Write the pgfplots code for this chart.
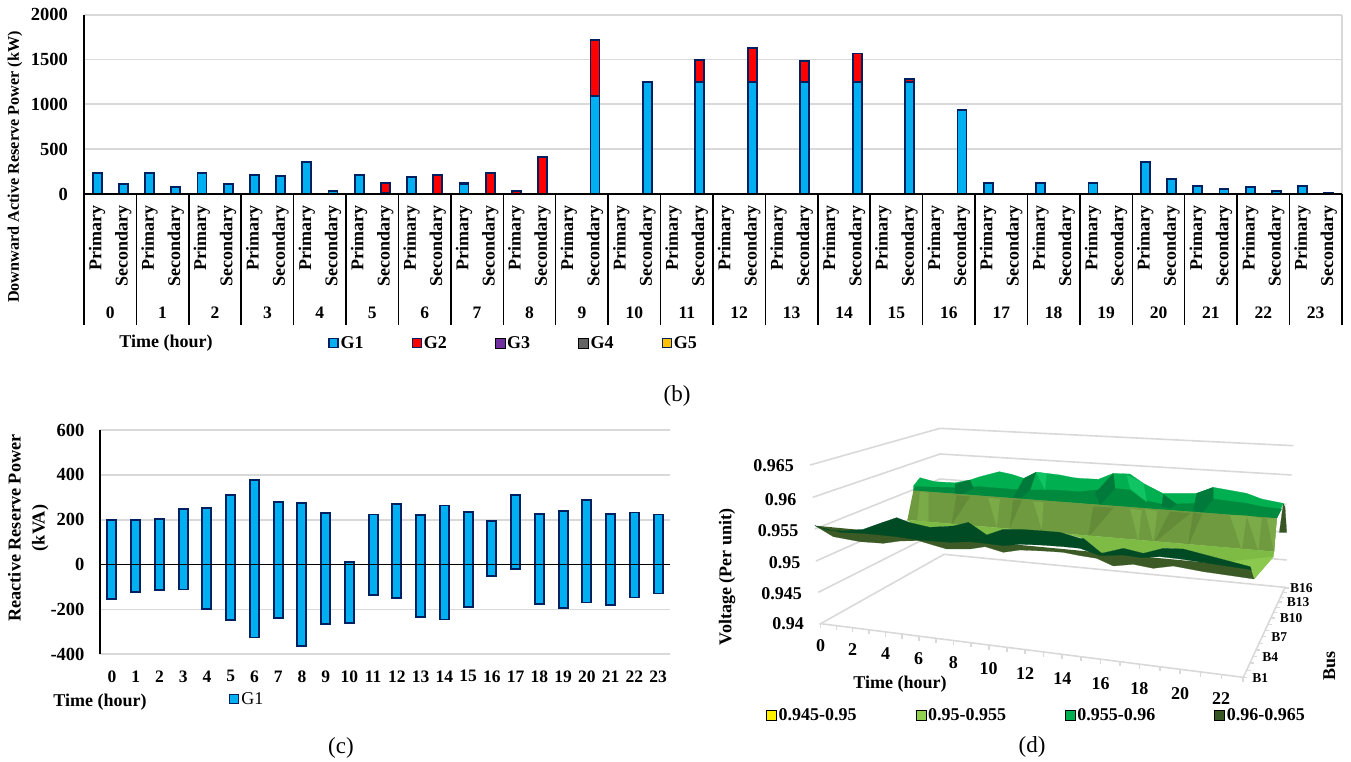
\documentclass[border=0pt]{standalone}
\usepackage{fontspec}
\setmainfont{Liberation Serif}
\usepackage{pgfplots}
\usepackage{pgfplotstable}
\pgfplotsset{compat=1.18}
\definecolor{navy}{HTML}{002060}
\definecolor{cy}{HTML}{00B0F0}
\definecolor{gridc}{HTML}{D9D9D9}
\definecolor{gGiii}{HTML}{7030A0}
\definecolor{gGiv}{HTML}{636363}
\definecolor{gGv}{HTML}{FFC000}
\definecolor{lg}{HTML}{92D050}
\definecolor{mg}{HTML}{00B050}
\definecolor{darkolive}{HTML}{375623}
\definecolor{sTop}{HTML}{00B050}
\definecolor{sBand}{HTML}{008A3E}
\definecolor{sDk}{HTML}{007A3A}
\definecolor{sLt}{HTML}{10C464}
\definecolor{sWall}{HTML}{6F9A40}
\definecolor{sWl}{HTML}{7BAA48}
\definecolor{sWd}{HTML}{648C38}
\definecolor{sFl}{HTML}{7DBB45}
\definecolor{sFm}{HTML}{8AC84E}
\definecolor{sFr}{HTML}{3B5A25}
\definecolor{sDg}{HTML}{004B23}
\newcommand{\bft}[1]{\fontsize{#1}{#1}\selectfont\bfseries}
\newcommand{\rg}[1]{\fontsize{#1}{#1}\selectfont}
\pgfplotsset{
  swatch/.style={legend image code/.code={\draw[##1,line width=1.3pt] (0pt,-4.5pt) rectangle (9pt,4.5pt);}},
  swatchd/.style={legend image code/.code={\fill[##1] (0pt,-5pt) rectangle (10pt,5pt);}},
  poly/.style={fill=#1,draw=#1,line width=0.2pt,forget plot,sharp plot,no markers},
}
\pgfplotstableread{
x G1 G2
0 230 0
1 108 0
2 238 0
3 75 0
4 238 0
5 108 0
6 208 0
7 204 0
8 353 0
9 37 0
10 215 0
11 10 112
12 190 0
13 0 215
14 115 11
15 0 234
16 0 37
17 0 415
18 0 0
19 1093 627
20 0 0
21 1250 0
22 0 0
23 1250 244
24 0 0
25 1250 378
26 0 0
27 1250 237
28 0 0
29 1250 318
30 0 0
31 1250 36
32 0 0
33 940 0
34 119 0
35 0 0
36 122 0
37 0 0
38 119 0
39 0 0
40 353 0
41 171 0
42 93 0
43 60 0
44 78 0
45 37 0
46 89 0
47 15 0
}\downres
\pgfplotstableread{
x up down
0 200 -153
1 198 -122
2 204 -114
3 248 -111
4 254 -198
5 309 -247
6 377 -325
7 279 -239
8 276 -363
9 230 -266
10 12 -262
11 223 -134
12 269 -150
13 221 -233
14 263 -245
15 236 -190
16 195 -51
17 309 -18
18 227 -175
19 239 -195
20 288 -169
21 227 -180
22 232 -147
23 223 -129
}\reacres
\begin{document}
\begin{tikzpicture}
\useasboundingbox (0,0) rectangle (1351pt,762pt);
% ---------- panel (b)
\begin{axis}[
  at={(84pt,568pt)},anchor=south west,scale only axis,width=1258pt,height=179.3pt,
  ybar stacked,bar width=9pt,
  xmin=-0.5,xmax=47.5,ymin=0,ymax=2000,
  axis x line=bottom,axis y line=left,
  axis line style={-,black,line width=1.5pt},
  ytick={0,500,1000,1500,2000},yticklabels={0,500,1000,1500,2000},
  yticklabel style={font=\bft{18.5},xshift=-12.5pt},
  ymajorgrids,grid style={gridc,line width=1.8pt},
  major tick length=0pt,
  xtick={0,...,47},
  xticklabels={Primary,Secondary,Primary,Secondary,Primary,Secondary,Primary,Secondary,Primary,Secondary,Primary,Secondary,Primary,Secondary,Primary,Secondary,Primary,Secondary,Primary,Secondary,Primary,Secondary,Primary,Secondary,Primary,Secondary,Primary,Secondary,Primary,Secondary,Primary,Secondary,Primary,Secondary,Primary,Secondary,Primary,Secondary,Primary,Secondary,Primary,Secondary,Primary,Secondary,Primary,Secondary,Primary,Secondary},
  xticklabel style={font=\bft{18},rotate=90,anchor=east,xshift=-8pt},
  ylabel={Downward Active Reserve Power (kW)},
  ylabel style={font=\bft{16.2},at={(axis description cs:-0.0548,0.15)},anchor=center},
  xlabel={Time (hour)},
  xlabel style={font=\bft{18},at={(axis description cs:0.0652,-0.831)},anchor=center},
  legend columns=-1,
  legend style={at={(axis description cs:0.1940,-0.831)},anchor=west,draw=none,fill=none,inner sep=0pt,font=\bft{18},
    /tikz/every even column/.append style={column sep=46pt}},
  legend cell align=left,
  clip=false,
  after end axis/.code={\draw[gridc,line width=1.8pt] (rel axis cs:1,0)--(rel axis cs:1,1);},
]
\addplot[fill=cy,draw=navy,line width=1.8pt,swatch] table[x=x,y=G1]{\downres};
\addplot[fill=red,draw=navy,line width=1.8pt,swatch] table[x=x,y=G2]{\downres};
\addlegendimage{fill=gGiii,swatchd}
\addlegendimage{fill=gGiv,swatchd}
\addlegendimage{fill=gGv,draw=navy,swatch}
\legend{G1,G2,G3,G4,G5}
\end{axis}
\begin{axis}[
  at={(84pt,568pt)},anchor=south west,scale only axis,width=1258pt,height=179.3pt,
  xmin=-0.5,xmax=47.5,ymin=0,ymax=2000,
  axis x line=bottom,axis y line=none,
  axis line style={-,black,line width=1.8pt},
  xtick={0.5,2.5,...,46.5},
  xticklabels={0,1,2,3,4,5,6,7,8,9,10,11,12,13,14,15,16,17,18,19,20,21,22,23},
  xticklabel style={font=\bft{17.5},anchor=center,yshift=-119pt},
  major tick length=0pt,
  minor xtick={-0.5,1.5,...,47.5},
  minor tick length=131pt,
  minor tick style={black,line width=1.5pt},
  tick align=outside,xtick pos=lower,
]
\end{axis}
\node[font=\rg{23}] at (677pt,366pt) {(b)};
% ---------- panel (c)
\begin{axis}[
  at={(100pt,107.7pt)},anchor=south west,scale only axis,width=570pt,height=224.3pt,
  ybar,bar shift=0pt,bar width=9pt,
  xmin=-0.5,xmax=23.5,ymin=-400,ymax=600,
  axis x line=bottom,axis y line=left,
  x axis line style={-,gridc,line width=1.8pt},
  y axis line style={-,black,line width=1.5pt},
  ytick={-400,-200,0,200,400,600},yticklabels={-400,-200,0,200,400,600},
  yticklabel style={font=\bft{18.5},xshift=-12pt},
  ymajorgrids,grid style={gridc,line width=1.8pt},
  major tick length=0pt,
  xtick={0,...,23},
  xticklabels={0,1,2,3,4,5,6,7,8,9,10,11,12,13,14,15,16,17,18,19,20,21,22,23},
  xticklabel style={font=\bft{17.5},anchor=center,yshift=-22pt},
  ylabel={Reactive Reserve Power\\(kVA)},
  ylabel style={font=\fontsize{18.2}{24}\selectfont\bfseries,align=center,at={(axis description cs:-0.126,0.563)},anchor=center},
  xlabel={Time (hour)},
  xlabel style={font=\bft{18},at={(axis description cs:0,-0.213)},anchor=center},
  legend style={at={(axis description cs:0.226,-0.199)},anchor=west,draw=none,fill=none,inner sep=0pt,font=\rg{18}},
  clip=false,
]
\addplot[fill=cy,draw=navy,line width=1.8pt,swatch] table[x=x,y=up]{\reacres};
\addlegendentry{G1}
\addplot[fill=cy,draw=navy,line width=1.8pt,forget plot] table[x=x,y=down]{\reacres};
\addplot[sharp plot,black,line width=1.8pt,no markers,forget plot] coordinates {(-0.5,0) (23.5,0)};
\end{axis}
\node[font=\rg{23}] at (341pt,14.5pt) {(c)};
% ---------- panel (d)
\begin{axis}[
  at={(700pt,0pt)},anchor=south west,scale only axis,width=651pt,height=342pt,
  xmin=-300,xmax=1653,ymin=-15,ymax=1011,y dir=reverse,
  hide axis,clip=false,
  legend columns=-1,
  legend style={at={(axis description cs:0.1014,0.137)},anchor=west,draw=none,fill=none,inner sep=0pt,font=\bft{18},
    /tikz/every even column/.append style={column sep=57pt}},
  legend cell align=left,
]
% walls and floor
\addplot[sharp plot,no markers,forget plot,gridc,line width=1.6pt] coordinates {(30,120) (420,10) (1480,62)};
\addplot[sharp plot,no markers,forget plot,gridc,line width=1.6pt] coordinates {(38,217) (420,87) (1475,150)};
\addplot[sharp plot,no markers,forget plot,gridc,line width=1.6pt] coordinates {(45,312) (420,162) (1460,238)};
\addplot[sharp plot,no markers,forget plot,gridc,line width=1.6pt] coordinates {(48,408) (430,238) (1460,322)};
\addplot[sharp plot,no markers,forget plot,gridc,line width=1.6pt] coordinates {(55,502) (432,312) (1460,405)};
\addplot[sharp plot,no markers,forget plot,gridc,line width=1.6pt] coordinates {(1330,757) (62,596) (432,388) (1455,487) (1330,757)};
% time ticks
\addplot[sharp plot,no markers,forget plot,gridc,line width=1.2pt,unbounded coords=jump] coordinates {
(62,596)(62,610)(nan,nan)(110,602)(110,616)(nan,nan)(158,608)(158,622)(nan,nan)(207,614)(207,628)(nan,nan)
(256,621)(256,635)(nan,nan)(306,627)(306,641)(nan,nan)(357,633)(357,647)(nan,nan)(408,640)(408,654)(nan,nan)
(460,647)(460,661)(nan,nan)(513,653)(513,667)(nan,nan)(567,660)(567,674)(nan,nan)(621,667)(621,681)(nan,nan)
(675,674)(675,688)(nan,nan)(730,681)(730,695)(nan,nan)(786,688)(786,702)(nan,nan)(843,695)(843,709)(nan,nan)
(901,703)(901,717)(nan,nan)(960,710)(960,724)(nan,nan)(1018,717)(1018,731)(nan,nan)(1080,725)(1080,739)(nan,nan)
(1140,733)(1140,747)(nan,nan)(1202,741)(1202,755)(nan,nan)(1264,749)(1264,763)(nan,nan)(1329,757)(1329,771)};
% bus ticks
\addplot[sharp plot,no markers,forget plot,gridc,line width=1.2pt,unbounded coords=jump] coordinates {
(1330,757)(1342,757)(nan,nan)(1340,736)(1352,736)(nan,nan)(1350,714)(1362,714)(nan,nan)(1358,695)(1370,695)(nan,nan)
(1368,675)(1380,675)(nan,nan)(1377,655)(1389,655)(nan,nan)(1386,635)(1398,635)(nan,nan)(1395,617)(1407,617)(nan,nan)
(1404,598)(1416,598)(nan,nan)(1412,579)(1424,579)(nan,nan)(1420,563)(1432,563)(nan,nan)(1427,547)(1439,547)(nan,nan)
(1435,531)(1447,531)(nan,nan)(1441,517)(1453,517)(nan,nan)(1448,503)(1460,503)(nan,nan)(1454,489)(1466,489)};
% surface, back to front
\addplot[poly=darkolive] coordinates {(1450,235)(1438,322)(1460,322)(1455,245)};
\addplot[poly=sTop] coordinates {(340,183)(360,158)(385,165)(405,170)(440,172)(465,173)(510,165)(540,155)(598,140)(635,148)(672,160)(708,142)(740,145)(780,150)(820,158)(840,160)(895,163)(940,145)(990,147)(1030,175)(1088,205)(1190,205)(1240,187)(1340,205)(1385,222)(1450,235)(1430,280)(340,197)};
\addplot[poly=sBand] coordinates {(345,185)(470,188)(540,185)(600,190)(672,195)(760,195)(840,200)(940,190)(990,195)(1030,225)(1088,238)(1190,235)(1240,222)(1340,235)(1385,245)(1445,252)(1430,280)(340,197)};
\addplot[poly=sDk] coordinates {(465,178)(510,165)(520,190)(480,210)(465,208)};
\addplot[poly=sDk] coordinates {(640,218)(672,160)(708,142)(690,195)(660,222)};
\addplot[poly=sLt] coordinates {(708,142)(740,145)(735,195)};
\addplot[poly=sDk] coordinates {(885,205)(940,145)(945,190)(900,240)};
\addplot[poly=sLt] coordinates {(980,150)(1030,175)(1040,230)(990,190)};
\addplot[poly=sDk] coordinates {(1180,255)(1190,205)(1240,187)(1240,222)(1205,265)};
\addplot[poly=sDk] coordinates {(1085,245)(1090,208)(1130,238)(1110,250)};
% wall
\addplot[poly=sWall] coordinates {(340,197)(1430,280)(1422,380)(322,285)};
\addplot[poly=sWl] coordinates {(360,200)(352,287)(385,290)(385,203)};
\addplot[poly=sWd] coordinates {(470,210)(455,298)(510,215)};
\addplot[poly=sWl] coordinates {(565,218)(590,305)(600,222)};
\addplot[poly=sWd] coordinates {(665,226)(630,307)(640,224)};
\addplot[poly=sWl] coordinates {(700,230)(725,312)(730,232)};
\addplot[poly=sWd] coordinates {(880,245)(865,335)(940,248)};
\addplot[poly=sWl] coordinates {(990,250)(1015,347)(1025,256)};
\addplot[poly=sWl] coordinates {(1035,252)(1060,350)(1072,258)};
\addplot[poly=sWd] coordinates {(1110,260)(1065,350)(1170,265)};
\addplot[poly=sWd] coordinates {(1180,262)(1165,360)(1205,268)};
\addplot[poly=sWl] coordinates {(1290,270)(1325,375)(1340,272)};
\addplot[poly=sWl] coordinates {(1340,272)(1375,378)(1385,280)};
\addplot[poly=sWl] coordinates {(1400,280)(1422,378)(1430,280)};
% light floor
\addplot[poly=sFl] coordinates {(322,285)(1422,380)(1420,395)(1362,462)(1350,425)(1150,372)(1090,370)(1030,385)(970,370)(905,385)(850,340)(780,322)(720,317)(660,313)(610,313)(560,330)(505,292)(460,303)(390,307)(330,293)};
\addplot[poly=sFm] coordinates {(1290,410)(1420,395)(1362,462)(1350,425)};
% front
\addplot[poly=sFr] coordinates {(45,302)(100,335)(180,350)(250,355)(300,348)(355,347)(440,372)(510,372)(555,365)(610,382)(660,375)(730,378)(790,382)(840,392)(890,400)(940,423)(1000,418)(1060,430)(1120,423)(1210,440)(1362,462)(1350,425)};
\addplot[poly=sDg] coordinates {(45,302)(80,315)(130,318)(190,313)(240,295)(290,278)(330,293)(390,307)(460,303)(505,292)(560,330)(610,313)(660,313)(720,317)(780,322)(840,340)(850,340)(905,385)(970,370)(1030,385)(1090,370)(1150,372)(1350,425)(1354,434)(1140,402)(1080,395)(1025,398)(970,390)(900,392)(840,370)(790,365)(720,360)(660,358)(610,362)(555,355)(510,350)(450,352)(355,345)(290,335)(240,330)(190,325)(120,322)};
% legend
\addlegendimage{fill=yellow,swatchd}
\addlegendimage{fill=lg,swatchd}
\addlegendimage{fill=mg,swatchd}
\addlegendimage{fill=darkolive,swatchd}
\legend{0.945-0.95,0.95-0.955,0.955-0.96,0.96-0.965}
% tick labels
\node[font=\bft{18}] at (axis cs:-79,122) {0.965};
\node[font=\bft{18}] at (axis cs:-58,223) {0.96};
\node[font=\bft{18}] at (axis cs:-66,318) {0.955};
\node[font=\bft{18}] at (axis cs:-46,412) {0.95};
\node[font=\bft{18}] at (axis cs:-55,505) {0.945};
\node[font=\bft{18}] at (axis cs:-36,597) {0.94};
\node[font=\bft{18}] at (axis cs:62,663) {0};
\node[font=\bft{18}] at (axis cs:158,675) {2};
\node[font=\bft{18}] at (axis cs:257,687) {4};
\node[font=\bft{18}] at (axis cs:356,701) {6};
\node[font=\bft{18}] at (axis cs:460,713) {8};
\node[font=\bft{18}] at (axis cs:566,730) {10};
\node[font=\bft{18}] at (axis cs:675,745) {12};
\node[font=\bft{18}] at (axis cs:787,760) {14};
\node[font=\bft{18}] at (axis cs:902,775) {16};
\node[font=\bft{18}] at (axis cs:1018,790) {18};
\node[font=\bft{18}] at (axis cs:1140,805) {20};
\node[font=\bft{18}] at (axis cs:1263,820) {22};
\node[font=\bft{13.5}] at (axis cs:1381,760) {B1};
\node[font=\bft{13.5}] at (axis cs:1411,695) {B4};
\node[font=\bft{13.5}] at (axis cs:1438,635) {B7};
\node[font=\bft{13.5}] at (axis cs:1473,580) {B10};
\node[font=\bft{13.5}] at (axis cs:1494,532) {B13};
\node[font=\bft{13.5}] at (axis cs:1504,490) {B16};
\node[font=\bft{18}] at (axis cs:300,778) {Time (hour)};
\node[font=\bft{18},rotate=90] at (axis cs:-219,456) {Voltage (Per unit)};
\node[font=\bft{18},rotate=90] at (axis cs:1588,723) {Bus};
\node[font=\rg{23}] at (axis cs:696,966) {(d)};
\end{axis}
\end{tikzpicture}
\end{document}
